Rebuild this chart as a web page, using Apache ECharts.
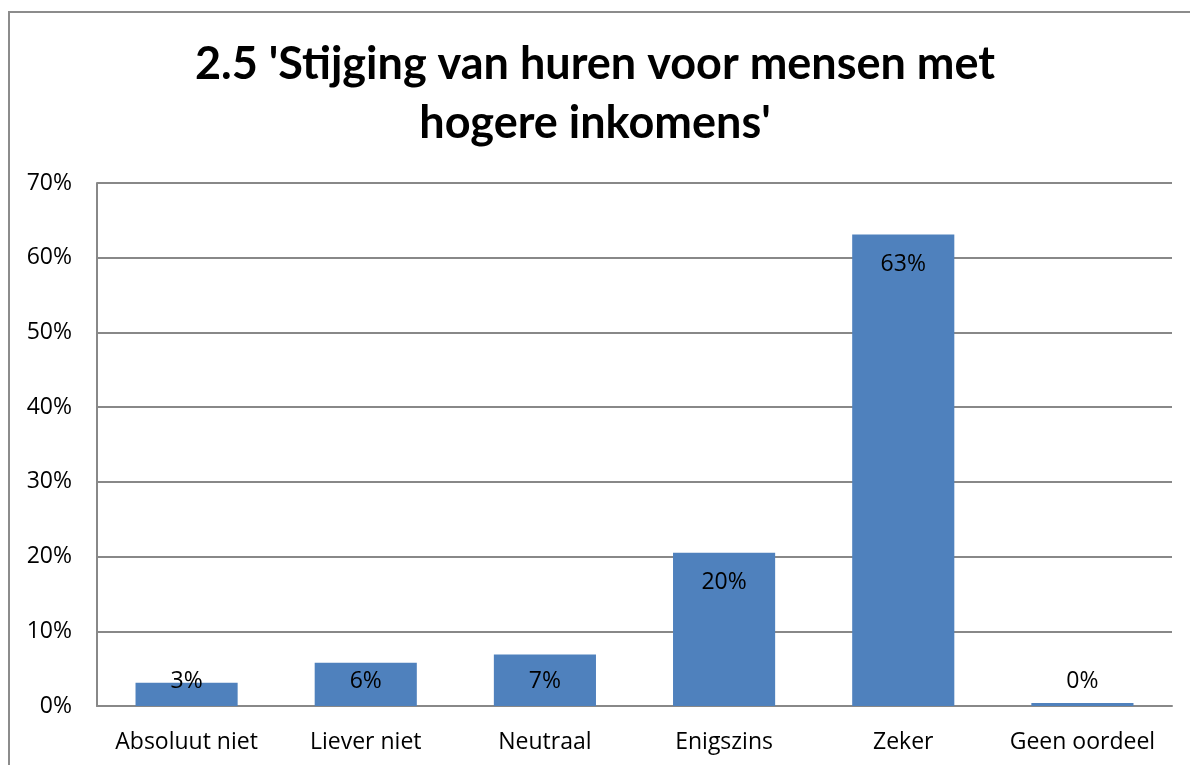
<!DOCTYPE html>
<html>
<head>
<meta charset="utf-8">
<script src="https://cdn.jsdelivr.net/npm/echarts@6/dist/echarts.min.js"></script>
<style>
  html, body { margin: 0; padding: 0; background: #fff; }
  #chart { width: 1190px; height: 765px; }
</style>
</head>
<body>
<div id="chart"></div>
<script>
// answer categories and share of respondents (%)
const categories = ['Absoluut niet', 'Liever niet', 'Neutraal', 'Enigszins', 'Zeker', 'Geen oordeel']
const values = [3.1, 5.8, 6.9, 20.5, 63.1, 0.4]
const labels = ['3%', '6%', '7%', '20%', '63%', '0%']
const yTicks = [0, 10, 20, 30, 40, 50, 60, 70]

const chart = echarts.init(document.getElementById('chart'))

const titleFont = 'Lato, sans-serif'
const font = '"Open Sans", sans-serif'

const option = {
  animation: false,
  title: {
    text: "2.5 'Stijging van huren voor mensen met\nhogere inkomens'",
    left: 'center',
    top: 30,
    textStyle: {
      fontFamily: titleFont,
      fontSize: 45,
      fontWeight: 'bold',
      color: '#000',
      lineHeight: 59
    }
  },
  graphic: [
    {
      type: 'rect',
      shape: { x: 9, y: 12, width: 1300, height: 900 },
      style: { fill: 'none', stroke: '#8c8c8c', lineWidth: 2 },
      silent: true
    }
  ],
  grid: { left: 97, right: 18, top: 183, bottom: 59 },
  xAxis: {
    type: 'category',
    data: categories,
    axisLine: { lineStyle: { color: '#888', width: 2 } },
    axisTick: { show: false },
    axisLabel: { color: '#000', fontSize: 23, fontFamily: font, margin: 25, interval: 0 }
  },
  yAxis: {
    type: 'value',
    min: yTicks[0],
    max: yTicks[yTicks.length - 1],
    interval: 10,
    axisLine: { show: true, lineStyle: { color: '#888', width: 2 } },
    axisTick: { show: false },
    splitLine: { lineStyle: { color: '#888', width: 2 } },
    axisLabel: {
      color: '#000',
      fontSize: 23,
      fontFamily: font,
      margin: 25,
      formatter: v => v + '%'
    }
  },
  series: [
    {
      type: 'bar',
      barWidth: '57%',
      itemStyle: { color: '#4F81BD' },
      data: values.map((v, i) => ({
        value: v,
        label: v < 10
          ? { position: 'insideBottom', distance: 13 }
          : { position: 'insideTop', distance: 18 }
      })),
      label: {
        show: true,
        color: '#000',
        fontSize: 23,
        fontFamily: font,
        formatter: p => labels[p.dataIndex]
      }
    }
  ]
}

chart.setOption(option)
</script>
</body>
</html>
